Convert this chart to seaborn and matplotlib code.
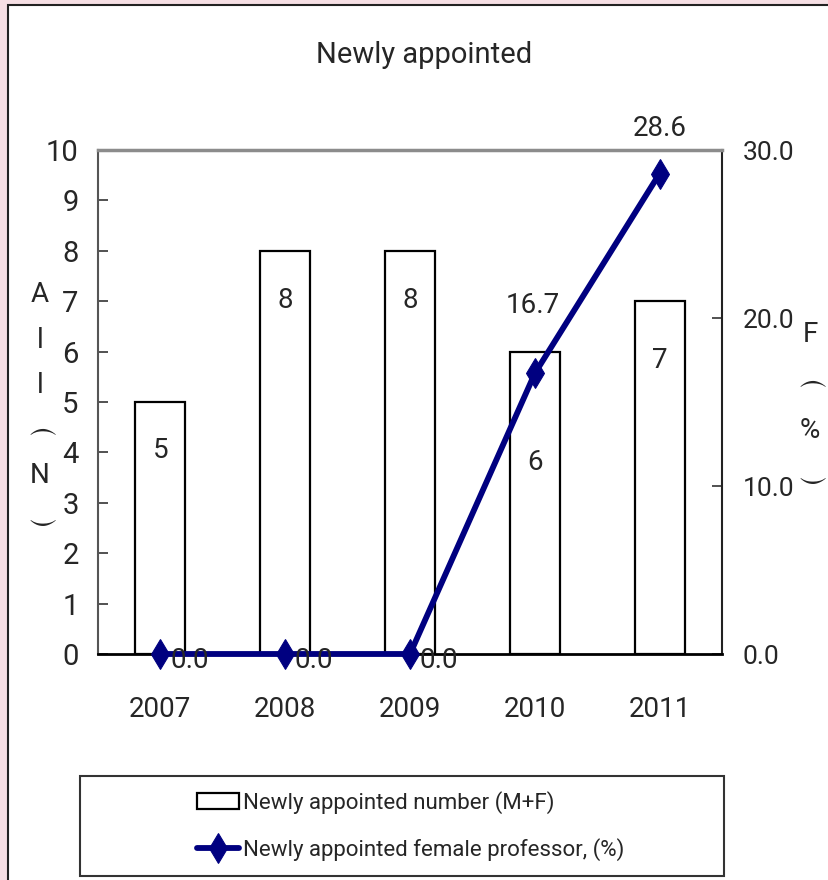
import numpy as np
import matplotlib
matplotlib.use('Agg')
import matplotlib.pyplot as plt
import seaborn as sns
from matplotlib.patches import Rectangle
from matplotlib.ticker import FixedLocator

# data
years = ['2007', '2008', '2009', '2010', '2011']
total = [5, 8, 8, 6, 7]
female_pct = [0.0, 0.0, 0.0, 16.7, 28.6]

# label offsets in pixels (bar labels below bar top, pct labels around marker)
bar_lab_off = [48, 50, 50, 111, 59]
pct_lab_off = [(29, -6), (29, -6), (29, -6), (-2, 68), (0, 45)]

sns.set_style('white')
plt.rcParams['font.family'] = ['Liberation Sans Narrow', 'Roboto', 'Noto Sans CJK JP', 'DejaVu Sans']
plt.rcParams['mathtext.fontset'] = 'dejavusans'

W, H = 829, 880
fig = plt.figure(figsize=(W / 100, H / 100), dpi=100, facecolor='#f6dfe4')
# white panel with dark border (top/left visible)
fig.patches.append(Rectangle((8 / W, -0.05), 1.2, 1 - 5 / H + 0.05, transform=fig.transFigure,
                             facecolor='white', edgecolor='#222222', lw=1.5, zorder=-5))

ax = fig.add_axes([98 / W, 1 - 654 / H, 624 / W, 504 / H])
sns.barplot(x=years, y=total, ax=ax, color='white', saturation=1, edgecolor='black',
            linewidth=1.6, width=0.4)
ax.set_xlim(-0.5, 4.5)
ax.set_ylim(0, 10)
ax.set_yticks(range(11))
ax.set_xlabel('')
ax.set_ylabel('')

ax2 = ax.twinx()
sns.lineplot(x=np.arange(len(years)), y=female_pct, ax=ax2, color='#000080', lw=4.2,
             marker='d', markersize=15, markeredgecolor='#000080', clip_on=False, zorder=5)
ax2.set_xlim(-0.5, 4.5)
ax2.set_ylim(0, 30)
ax2.set_yticks([0, 10, 20, 30])
ax2.yaxis.set_major_formatter('{x:.1f}')
ax2.set_xlabel('')
ax2.set_ylabel('')

# spines
for s in ['top', 'right', 'bottom']:
    ax.spines[s].set_visible(False)
ax.spines['left'].set_color('#555555')
ax.spines['left'].set_linewidth(1.5)
ax2.spines['left'].set_visible(False)
ax2.spines['top'].set_color('#8c8c8c')
ax2.spines['top'].set_linewidth(2.5)
ax2.spines['right'].set_color('#222222')
ax2.spines['right'].set_linewidth(1.5)
ax2.spines['bottom'].set_color('black')
ax2.spines['bottom'].set_linewidth(2)

# ticks
ax.tick_params(axis='y', direction='in', length=7, width=1.2, pad=14, labelsize=21, color='#333333')
ax.tick_params(axis='x', which='major', length=0, pad=30, labelsize=20)
ax.xaxis.set_minor_locator(FixedLocator([0.5, 1.5, 2.5, 3.5]))
ax.tick_params(axis='x', which='minor', direction='in', length=9, width=1.2, color='#999999')
ax2.tick_params(axis='y', direction='in', length=7, width=1.2, pad=15, labelsize=19, color='#333333')

# value labels
for i, v in enumerate(total):
    ax.annotate(str(v), xy=(i, v), xytext=(0, -bar_lab_off[i] * 0.72), textcoords='offset points',
                ha='center', va='center', fontsize=20)
for i, v in enumerate(female_pct):
    dx, dy = pct_lab_off[i]
    ax2.annotate(f'{v:.1f}', xy=(i, v), xytext=(dx * 0.72, dy * 0.72), textcoords='offset points',
                 ha='center', va='center', fontsize=20, zorder=10, annotation_clip=False)

# title and stacked axis labels, brackets as vertical-writing arcs
fig.text(424 / W, 1 - 55 / H, 'Newly appointed', ha='center', va='center', fontsize=21)
arcs = {'(': r'$\frown$', ')': r'$\smile$'}


def stacked_label(x, y0, step, chars):
    for k, ch in enumerate(chars):
        y = 1 - (y0 + step * k) / H
        fig.text(x / W, y, arcs.get(ch, ch), ha='center', va='center', fontsize=20)


stacked_label(40, 295, 45, ['A', 'l', 'l', '(', 'N', ')'])
stacked_label(810, 334, 48, ['F', '(', '%', ')'])

# legend
fig.patches.append(Rectangle((80 / W, 1 - 876 / H), 644 / W, 100 / H, transform=fig.transFigure,
                             facecolor='white', edgecolor='#333333', lw=1.5, zorder=1))
handles = [ax.containers[0].patches[0], ax2.lines[0]]
labels = ['Newly appointed number (M+F)', 'Newly appointed female professor, (%)']
fig.legend(handles, labels, loc='center left', bbox_to_anchor=(186 / W, 1 - 826 / H),
           frameon=False, fontsize=16, borderpad=0, handlelength=1.9, handletextpad=0.15,
           labelspacing=1.1)

fig.savefig('out.png', dpi=100, facecolor=fig.get_facecolor())
